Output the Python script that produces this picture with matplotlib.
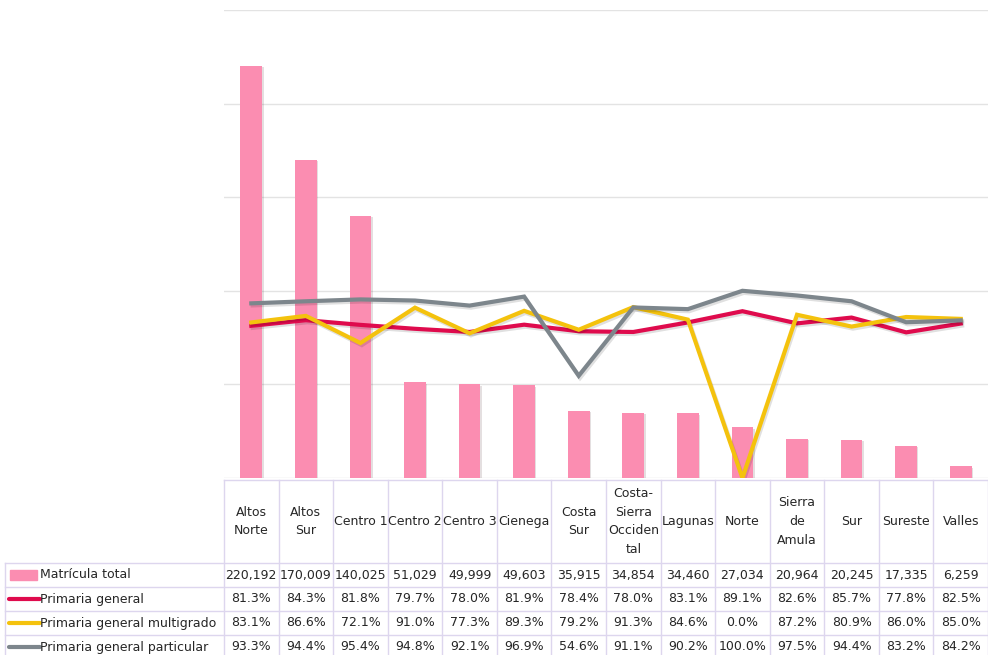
import matplotlib.pyplot as plt
import matplotlib.patheffects as pe
import matplotlib.transforms as mtransforms
import numpy as np

plt.rcParams['font.family'] = ['DejaVu Sans']

regiones = ['Altos\nNorte', 'Altos\nSur', 'Centro 1', 'Centro 2', 'Centro 3',
            'Cienega', 'Costa\nSur', 'Costa-\nSierra\nOcciden\ntal', 'Lagunas',
            'Norte', 'Sierra\nde\nAmula', 'Sur', 'Sureste', 'Valles']
matricula = [220192, 170009, 140025, 51029, 49999, 49603, 35915, 34854,
             34460, 27034, 20964, 20245, 17335, 6259]
primaria_general = [81.3, 84.3, 81.8, 79.7, 78.0, 81.9, 78.4, 78.0, 83.1,
                    89.1, 82.6, 85.7, 77.8, 82.5]
primaria_multigrado = [83.1, 86.6, 72.1, 91.0, 77.3, 89.3, 79.2, 91.3, 84.6,
                       0.0, 87.2, 80.9, 86.0, 85.0]
primaria_particular = [93.3, 94.4, 95.4, 94.8, 92.1, 96.9, 54.6, 91.1, 90.2,
                       100.0, 97.5, 94.4, 83.2, 84.2]

series = [
    ('Primaria general', primaria_general, '#df0b4d'),
    ('Primaria general multigrado', primaria_multigrado, '#f4c20d'),
    ('Primaria general particular', primaria_particular, '#7d868c'),
]
bar_color = '#fb8db1'
border = '#ddd6ee'
text_color = '#262626'
fs = 9

W, H = 988, 655
fig = plt.figure(figsize=(W / 100, H / 100), dpi=100)

# plot area in pixel units
left, right, top, base = 224, 988, 10, 478
ax = fig.add_axes([left / W, 1 - base / H, (right - left) / W, (base - top) / H])
x = np.arange(len(regiones))
shadow = [pe.SimplePatchShadow(offset=(1, -1), alpha=0.15), pe.Normal()]
ax.bar(x, matricula, width=0.4, color=bar_color, zorder=2, path_effects=shadow)
ax.set_xlim(-0.5, len(regiones) - 0.5)
ax.set_ylim(0, 250000)
ax.set_yticks(np.arange(0, 250001, 50000))
ax.grid(axis='y', color='#e3e3e3', lw=1, zorder=0)
for s in ax.spines.values():
    s.set_visible(False)

# percentages share the gridlines: 0-250 %
ax2 = ax.twinx()
ax2.set_ylim(0, 250)
line_shadow = [pe.SimpleLineShadow(offset=(1, -1.5), alpha=0.12), pe.Normal()]
for name, vals, color in series:
    ax2.plot(x, vals, color=color, lw=3, solid_joinstyle='miter',
             path_effects=line_shadow, zorder=3)
ax2.set_axis_off()
ax.tick_params(left=False, right=False, bottom=False,
               labelleft=False, labelright=False, labelbottom=False)

# data table under the plot
trans = mtransforms.blended_transform_factory(ax.transData, fig.transFigure)


def fy(py):
    return 1 - py / H


def fx(px):
    return px / W


head_top, head_bot = 480, 563
row_h = 24
rows = [('Matrícula total', [f'{v:,}' for v in matricula], bar_color, 'bar')]
for name, vals, color in series:
    rows.append((name, [f'{v:.1f}%' for v in vals], color, 'line'))

n = len(regiones)
table_bot = head_bot + row_h * len(rows) + 5
# vertical lines between columns
for i in range(n + 1):
    ax.plot([i - 0.5, i - 0.5], [fy(head_top), fy(table_bot)], color=border,
            lw=1, transform=trans, clip_on=False)
# horizontal lines
for k in range(len(rows) + 1):
    yy = fy(head_bot + k * row_h)
    fig.add_artist(plt.Line2D([fx(5), fx(right)], [yy, yy], color=border, lw=1))
fig.add_artist(plt.Line2D([fx(5), fx(5)], [fy(head_bot), fy(table_bot)],
                          color=border, lw=1))
ax.plot([-0.5, n - 0.5], [fy(head_top), fy(head_top)], color=border, lw=1,
        transform=trans, clip_on=False)

for i, name in enumerate(regiones):
    ax.text(i, fy((head_top + head_bot) / 2), name, transform=trans,
            ha='center', va='center', fontsize=fs, linespacing=1.55,
            color=text_color)

for k, (name, vals, color, kind) in enumerate(rows):
    yc = fy(head_bot + (k + 0.5) * row_h)
    if kind == 'bar':
        fig.add_artist(plt.Rectangle((fx(10), yc - 5 / H), 27 / W, 10 / H,
                                     color=color))
    else:
        fig.add_artist(plt.Line2D([fx(9), fx(40)], [yc, yc], color=color,
                                  lw=3, solid_capstyle='round'))
    fig.text(fx(40), yc, name, ha='left', va='center', fontsize=fs,
             color=text_color)
    for i, v in enumerate(vals):
        ax.text(i, yc, v, transform=trans, ha='center', va='center',
                fontsize=fs, color=text_color)

fig.savefig('out.png', dpi=100, facecolor='white')
